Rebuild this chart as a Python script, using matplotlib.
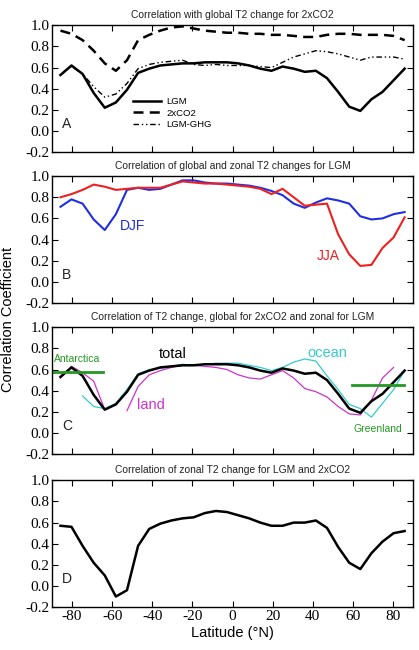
import numpy as np
import matplotlib
matplotlib.use('Agg')
import matplotlib.pyplot as plt

plt.rcParams['axes.unicode_minus'] = False
plt.rcParams['font.family'] = 'serif'
plt.rcParams['font.serif'] = ['Liberation Serif', 'DejaVu Serif']

# T21 gaussian latitudes
lat = [-85.76, -80.27, -74.74, -69.21, -63.68, -58.14, -52.61, -47.07, -41.53, -36.00,
       -30.46, -24.92, -19.38, -13.84, -8.31, -2.77, 2.77, 8.31, 13.84, 19.38,
       24.92, 30.46, 36.00, 41.53, 47.07, 52.61, 58.14, 63.68, 69.21, 74.74, 80.27, 85.76]

# panel A
lgm = [0.53, 0.62, 0.54, 0.36, 0.22, 0.27, 0.39, 0.55, 0.59, 0.62, 0.63, 0.64, 0.64, 0.65, 0.65, 0.65,
       0.64, 0.62, 0.59, 0.57, 0.61, 0.59, 0.56, 0.57, 0.50, 0.37, 0.23, 0.19, 0.30, 0.37, 0.48, 0.59]
co2 = [0.95, 0.92, 0.86, 0.76, 0.64, 0.57, 0.67, 0.86, 0.91, 0.95, 0.98, 0.99, 0.97, 0.95, 0.94, 0.93,
       0.93, 0.92, 0.92, 0.91, 0.91, 0.90, 0.89, 0.89, 0.91, 0.92, 0.92, 0.91, 0.91, 0.91, 0.90, 0.86]
lgm_ghg = [0.53, 0.61, 0.54, 0.42, 0.32, 0.35, 0.45, 0.59, 0.63, 0.65, 0.66, 0.67, 0.63, 0.62, 0.63, 0.62,
           0.62, 0.62, 0.61, 0.60, 0.65, 0.70, 0.73, 0.76, 0.75, 0.73, 0.70, 0.67, 0.70, 0.70, 0.70, 0.68]

# panel B
djf = [0.71, 0.78, 0.74, 0.59, 0.49, 0.64, 0.87, 0.89, 0.87, 0.88, 0.92, 0.96, 0.96, 0.94, 0.93, 0.93,
       0.92, 0.91, 0.89, 0.86, 0.82, 0.74, 0.70, 0.75, 0.79, 0.77, 0.74, 0.62, 0.59, 0.60, 0.64, 0.66]
jja = [0.80, 0.83, 0.87, 0.92, 0.90, 0.87, 0.88, 0.89, 0.89, 0.89, 0.92, 0.95, 0.94, 0.93, 0.93, 0.92,
       0.91, 0.90, 0.88, 0.83, 0.88, 0.80, 0.72, 0.73, 0.74, 0.45, 0.26, 0.15, 0.16, 0.32, 0.42, 0.61]

# panel C (total = lgm)
nan = np.nan
land = [0.52, 0.63, 0.57, 0.49, 0.22, nan, 0.21, 0.44, 0.55, 0.59, 0.62, 0.64, 0.64, 0.63, 0.62, 0.60,
        0.55, 0.52, 0.51, 0.55, 0.59, 0.52, 0.42, 0.39, 0.34, 0.25, 0.18, 0.17, 0.31, 0.52, 0.62, nan]
ocean = [nan, nan, 0.35, 0.25, 0.23, 0.28, 0.41, 0.56, 0.60, 0.61, 0.63, 0.65, 0.64, 0.65, 0.66, 0.66,
         0.66, 0.64, 0.62, 0.59, 0.62, 0.67, 0.70, 0.68, 0.54, 0.41, 0.27, 0.23, 0.15, 0.28, 0.41, 0.59]
antarctica_lat = [-90, -64.7]
antarctica = [0.58, 0.58]
greenland_lat = [59.3, 85.5]
greenland = [0.45, 0.45]

# panel D
zonal = [0.57, 0.56, 0.38, 0.22, 0.10, -0.10, -0.04, 0.38, 0.54, 0.59, 0.62, 0.64, 0.65, 0.69, 0.71, 0.70,
         0.67, 0.64, 0.60, 0.57, 0.57, 0.60, 0.60, 0.62, 0.55, 0.37, 0.22, 0.16, 0.31, 0.42, 0.50, 0.52]

titles = ['Correlation with global T2 change for 2xCO2',
          'Correlation of global and zonal T2 changes for LGM',
          'Correlation of T2 change, global for 2xCO2 and zonal for LGM',
          'Correlation of zonal T2 change for LGM and 2xCO2']
letters = ['A', 'B', 'C', 'D']

fig = plt.figure(figsize=(4.19, 6.5), dpi=100)
left, width = 0.124, 0.862
bottoms = [0.766, 0.534, 0.3015, 0.066]
height = 0.195
axes = [fig.add_axes([left, b, width, height]) for b in bottoms]

sans = 'Liberation Sans'
yt = np.arange(-0.2, 1.01, 0.2)
xt = np.arange(-80, 81, 20)
for i, ax in enumerate(axes):
    ax.set_xlim(-90, 90)
    ax.set_ylim(-0.2, 1.0)
    ax.set_xticks(xt)
    ax.set_yticks(yt)
    ax.set_yticklabels(['%.1f' % v for v in yt], fontsize=11)
    ax.tick_params(direction='in', top=True, right=True, length=4, width=0.8, pad=2)
    if i < 3:
        ax.set_xticklabels([])
    else:
        ax.set_xticklabels(['%d' % v for v in xt], fontsize=11)
    for s in ax.spines.values():
        s.set_linewidth(1.0)
    ax.set_title(titles[i], fontfamily=sans, fontsize=7.4, pad=5, color='#222222')
    ax.text(0.028, 0.22, letters[i], transform=ax.transAxes, fontfamily=sans, fontsize=10,
            ha='left', va='center', color='#222222')

# A
ax = axes[0]
ax.plot(lat, lgm, color='black', lw=1.8, label='LGM')
ax.plot(lat, co2, color='black', lw=1.8, ls=(0, (4, 2.5)), label='2xCO2')
ax.plot(lat, lgm_ghg, color='black', lw=1.0, ls=(0, (4, 2, 1, 2, 1, 2)), label='LGM-GHG')
ax.legend(loc='upper left', bbox_to_anchor=(0.2, 0.5), frameon=False,
          handlelength=3.0, handletextpad=0.6, labelspacing=0.25, prop={'family': sans, 'size': 6.8})

# B
ax = axes[1]
ax.plot(lat, djf, color='#1f2fe0', lw=1.5)
ax.plot(lat, jja, color='#ee2020', lw=1.5)
ax.text(0.188, 0.605, 'DJF', transform=ax.transAxes, color='#1f2fe0', fontfamily=sans, fontsize=10, va='center')
ax.text(0.734, 0.367, 'JJA', transform=ax.transAxes, color='#ee2020', fontfamily=sans, fontsize=10, va='center')

# C
ax = axes[2]
ax.plot(lat, land, color='#cc33cc', lw=0.9)
ax.plot(lat, ocean, color='#33cccc', lw=0.9)
ax.plot(lat, lgm, color='black', lw=1.8)
ax.plot(antarctica_lat, antarctica, color='#229922', lw=2.0)
ax.plot(greenland_lat, greenland, color='#229922', lw=2.0)
ax.text(0.006, 0.75, 'Antarctica', transform=ax.transAxes, color='#229922', fontfamily=sans, fontsize=7.5, va='center')
ax.text(0.297, 0.79, 'total', transform=ax.transAxes, color='black', fontfamily=sans, fontsize=10.5, va='center')
ax.text(0.707, 0.80, 'ocean', transform=ax.transAxes, color='#33cccc', fontfamily=sans, fontsize=10.5, va='center')
ax.text(0.236, 0.39, 'land', transform=ax.transAxes, color='#cc33cc', fontfamily=sans, fontsize=10.5, va='center')
ax.text(0.835, 0.20, 'Greenland', transform=ax.transAxes, color='#229922', fontfamily=sans, fontsize=7.5, va='center')

# D
ax = axes[3]
ax.plot(lat, zonal, color='black', lw=1.8)
ax.set_xlabel('Latitude (°N)', fontfamily=sans, fontsize=10.5, labelpad=2)

fig.text(0.02, 0.508, 'Correlation Coefficient', rotation=90, ha='center', va='center',
         fontfamily=sans, fontsize=10.5)

fig.savefig('out.png', dpi=100)
